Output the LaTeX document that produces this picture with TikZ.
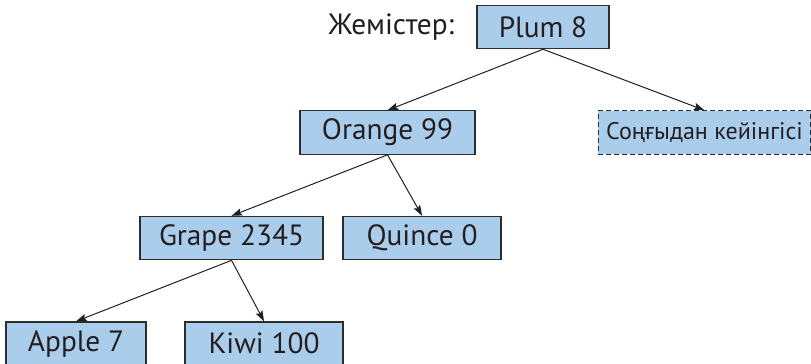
\documentclass[tikz,border=0pt]{standalone}
\usepackage{fontspec}
\setmainfont{PT Sans}
\usetikzlibrary{positioning, arrows.meta}

\definecolor{boxblue}{RGB}{171,205,236}
\definecolor{edgegray}{RGB}{45,45,45}
\definecolor{inkgray}{RGB}{35,31,32}

\begin{document}
\begin{tikzpicture}[
  font=\fontsize{22}{26}\selectfont,
  >={Stealth[length=8pt, width=5.5pt, inset=1.5pt]},
  fruit/.style={draw=edgegray, line width=0.9pt, fill=boxblue, text=inkgray, minimum height=32.5pt, inner sep=2pt},
  spare/.style={fruit, dash pattern=on 3.5pt off 2.5pt, font=\fontsize{18}{22}\selectfont},
  caption/.style={text=inkgray, inner sep=0pt},
  arr/.style={->, line width=0.75pt, draw=inkgray},
]
\useasboundingbox (0,0) rectangle (608.25pt,-273pt);

% ---- root and its caption ----
\node[fruit, minimum width=99pt] (plum) at (407.25pt,-20.25pt) {Plum 8};
\node[caption, left=16.5pt of plum] (title) {Жемістер:};

% ---- second level ----
\node[fruit, minimum width=131.25pt, below=45.75pt of plum, xshift=-116.6pt] (orange) {Orange 99};
\node[spare, minimum width=159.5pt, below=45.75pt of plum, xshift=121.1pt] (after) {Соңғыдан кейінгісі};
\draw[arr] (plum.south) -- (orange.north);
\draw[arr] (plum.south) -- (after.north);

% ---- third level ----
\node[fruit, minimum width=137.25pt, below=45.75pt of orange, xshift=-117pt] (grape) {Grape 2345};
\node[fruit, minimum width=118.5pt, below=45.75pt of orange, xshift=25.9pt] (quince) {Quince 0};
\draw[arr] (orange.south) -- (grape.north);
\draw[arr] (orange.south) -- (quince.north);

% ---- leaves ----
\node[fruit, minimum width=105pt, below=45.75pt of grape, xshift=-116.6pt] (apple) {Apple 7};
\node[fruit, minimum width=118.5pt, below=45.75pt of grape, xshift=24.4pt] (kiwi) {Kiwi 100};
\draw[arr] (grape.south) -- (apple.north);
\draw[arr] (grape.south) -- (kiwi.north);

\end{tikzpicture}
\end{document}
